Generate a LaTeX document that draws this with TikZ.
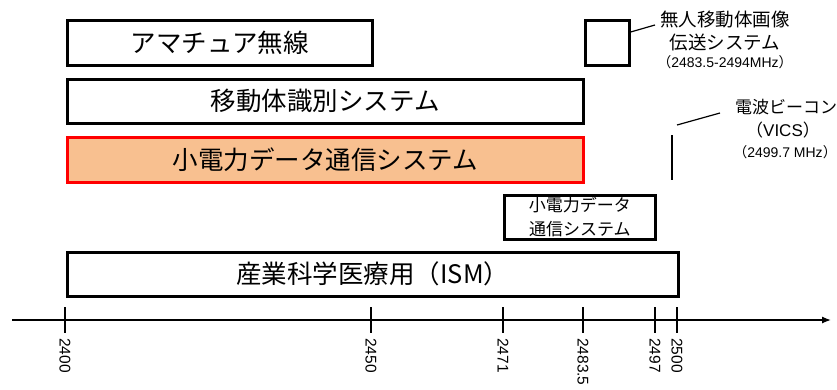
\documentclass[tikz,border=0pt]{standalone}
\usepackage{fontspec}
\setmainfont{Liberation Sans}
\newfontfamily\jp{Noto Sans CJK JP}
\usetikzlibrary{arrows.meta}
\definecolor{boxorange}{RGB}{248,192,144}
\tikzset{
  band/.style={draw=black, line width=2.6pt, inner sep=0pt, anchor=north west},
  bandtext/.style={font=\jp\fontsize{25.5}{28}\selectfont, inner sep=0pt},
  note/.style={font=\jp\fontsize{18.5}{21}\selectfont, inner sep=0pt, align=center},
  smallnote/.style={font=\fontsize{14}{16}\selectfont, inner sep=0pt},
  tickline/.style={line width=1.3pt},
  ticklabel/.style={font=\fontsize{15.5}{18}\selectfont, rotate=-90, anchor=west, inner sep=0pt},
  leader/.style={line width=1.2pt}
}
\begin{document}
\begin{tikzpicture}[x=1pt,y=-1pt]
\useasboundingbox (0,0) rectangle (837,389);
% bands
\node[band, minimum width=305pt, minimum height=45pt] (ham) at (66,19) {};
\node[bandtext] (hamt) at (ham.center) {アマチュア無線};
\node[band, minimum width=516pt, minimum height=44pt] (mid) at (66,78) {};
\node[bandtext] (midt) at (mid.center) {移動体識別システム};
\node[band, draw=red, fill=boxorange, minimum width=516pt, minimum height=45pt] (ldc) at (66,136) {};
\node[bandtext] (ldct) at (ldc.center) {小電力データ通信システム};
\node[band, minimum width=151pt, minimum height=44pt] (ldc2) at (503,194) {};
\node[note, font=\jp\fontsize{17}{24}\selectfont] (ldc2t) at (ldc2.center) {小電力データ\\通信システム};
\node[band, minimum width=611pt, minimum height=44pt] (ism) at (66,251) {};
\node[bandtext] (ismt) at (ism.center) {産業科学医療用（ISM）};
\node[band, minimum width=44pt, minimum height=45pt] (uav) at (584,19) {};
% annotations
\node[note] (uavt1) at (725,20) {無人移動体画像};
\node[note] (uavt2) at (725,42) {伝送システム};
\node[smallnote] (uavt3) at (725,62) {{\jp （}2483.5-2494MHz{\jp ）}};
\coordinate (uavl) at (655,25);
\draw[leader] (uav.east |- 0,32) -- (uavl);
\node[note, font=\jp\fontsize{17}{20}\selectfont] (vicst1) at (786,107) {電波ビーコン};
\node[note, font=\fontsize{17}{20}\selectfont] (vicst2) at (783,130) {{\jp （}VICS{\jp ）}};
\node[smallnote] (vicst3) at (785,152) {{\jp （}2499.7 MHz{\jp ）}};
\coordinate (vicsA) at (672,135);
\coordinate (vicsB) at (672,180);
\draw[line width=2pt] (vicsA) -- (vicsB);
\coordinate (vicsl1) at (677,125);
\coordinate (vicsl2) at (720,113);
\draw[leader] (vicsl1) -- (vicsl2);
% axis
\coordinate (ax0) at (12,320);
\coordinate (ax1) at (831,320);
\draw[line width=1.3pt, -{Latex[length=9pt,width=7pt]}] (ax0) -- (ax1);
\foreach \xx/\lab [count=\i] in {65/2400, 371/2450, 503/2471, 583/2483.5, 655/2497, 677/2500}{
  \coordinate (t\i) at (\xx,320);
  \draw[tickline] ([yshift=13pt]t\i) -- ([yshift=-13pt]t\i);
  \node[ticklabel] (l\i) at (\xx,338) {\lab};
}
\end{tikzpicture}
\end{document}
